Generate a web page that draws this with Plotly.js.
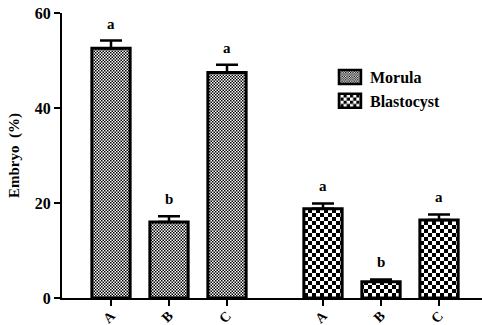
<!DOCTYPE html>
<html>
<head>
<meta charset="utf-8">
<script src="https://cdn.plot.ly/plotly-3.0.1.min.js"></script>
<style>html,body{margin:0;padding:0;background:#fff}#chart{width:482px;height:325px}</style>
</head>
<body>
<div id="chart"></div>
<script>
const categories = ['A', 'B', 'C'];
const morulaValues = [52.6, 16.0, 47.5];
const morulaErrors = [1.6, 1.2, 1.6];
const morulaLetters = ['a', 'b', 'a'];
const blastocystValues = [18.8, 3.4, 16.4];
const blastocystErrors = [1.1, 0.5, 1.2];
const blastocystLetters = ['a', 'b', 'a'];
const yTicks = [0, 20, 40, 60];

const font = '"Liberation Serif", "Times New Roman", serif';

function barTrace(name, vals, errs, xaxis, size) {
  return {
    type: 'bar', name: name, x: categories, y: vals, xaxis: xaxis, yaxis: 'y',
    width: 0.66,
    marker: {
      color: '#fff',
      line: {color: '#000', width: 3},
      pattern: {shape: '.', fgcolor: '#000', bgcolor: '#fff', size: size, solidity: 0.5}
    },
    error_y: {type: 'data', array: errs, arrayminus: errs.map(() => 0), symmetric: false,
      color: '#000', thickness: 2.5, width: 11}
  };
}

const data = [
  barTrace('Morula', morulaValues, morulaErrors, 'x', 3),
  barTrace('Blastocyst', blastocystValues, blastocystErrors, 'x2', 8)
];

const annotations = [];
categories.forEach((c, i) => {
  annotations.push({xref: 'x', yref: 'y', x: c, y: morulaValues[i] + morulaErrors[i],
    text: '<b>' + morulaLetters[i] + '</b>', showarrow: false, yanchor: 'bottom', yshift: 7,
    font: {family: font, size: 15, color: '#000'}});
  annotations.push({xref: 'x2', yref: 'y', x: c, y: blastocystValues[i] + blastocystErrors[i],
    text: '<b>' + blastocystLetters[i] + '</b>', showarrow: false, yanchor: 'bottom', yshift: 7,
    font: {family: font, size: 15, color: '#000'}});
});

const xCommon = {
  type: 'category', showline: true, linecolor: '#000', linewidth: 2,
  ticks: 'outside', ticklen: 6, tickwidth: 2, tickcolor: '#000',
  tickangle: -45, showgrid: false, zeroline: false, ticklabelstandoff: -4,
  tickfont: {family: font, size: 14, color: '#000', weight: 'bold'}
};

const layout = {
  width: 482, height: 325,
  margin: {l: 62, r: 0, t: 13, b: 27},
  paper_bgcolor: '#fff', plot_bgcolor: '#fff',
  showlegend: true,
  legend: {x: 0.638, y: 0.835, xanchor: 'left', yanchor: 'top', bgcolor: 'rgba(0,0,0,0)',
    font: {family: font, size: 16, color: '#000', weight: 'bold'}, tracegroupgap: 0,
    itemwidth: 30},
  xaxis: Object.assign({}, xCommon, {domain: [0, 0.5], range: [-0.845, 2.776], anchor: 'y'}),
  xaxis2: Object.assign({}, xCommon, {domain: [0.5, 1], range: [-0.879, 2.741], anchor: 'y'}),
  yaxis: {
    range: [0, 60], tickvals: yTicks, showline: true, linecolor: '#000', linewidth: 2,
    ticks: 'outside', ticklen: 6, tickwidth: 2, tickcolor: '#000',
    showgrid: false, zeroline: false,
    tickfont: {family: font, size: 16, color: '#000', weight: 'bold'},
    title: {text: '<b>Embryo  (%)</b>', font: {family: font, size: 15, color: '#000'}, standoff: 12}
  },
  annotations: annotations
};

Plotly.newPlot('chart', data, layout, {displayModeBar: false, staticPlot: true}).then(function (gd) {
  const NS = 'http://www.w3.org/2000/svg';
  gd.querySelectorAll('pattern').forEach(function (p) {
    const w = parseFloat(p.getAttribute('width'));
    const h = parseFloat(p.getAttribute('height'));
    while (p.firstChild) p.removeChild(p.firstChild);
    const bg = document.createElementNS(NS, 'rect');
    bg.setAttribute('width', w); bg.setAttribute('height', h); bg.setAttribute('fill', '#fff');
    p.appendChild(bg);
    [[0, 0], [w / 2, h / 2]].forEach(function (o) {
      const r = document.createElementNS(NS, 'rect');
      r.setAttribute('x', o[0]); r.setAttribute('y', o[1]);
      r.setAttribute('width', w / 2); r.setAttribute('height', h / 2);
      r.setAttribute('fill', '#000');
      p.appendChild(r);
    });
  });
  gd.querySelectorAll('.legendpoints path').forEach(function (el) {
    el.setAttribute('d', 'M11,7H-11V-7H11Z');
    el.style.strokeWidth = '2.5px';
  });
});
</script>
</body>
</html>
